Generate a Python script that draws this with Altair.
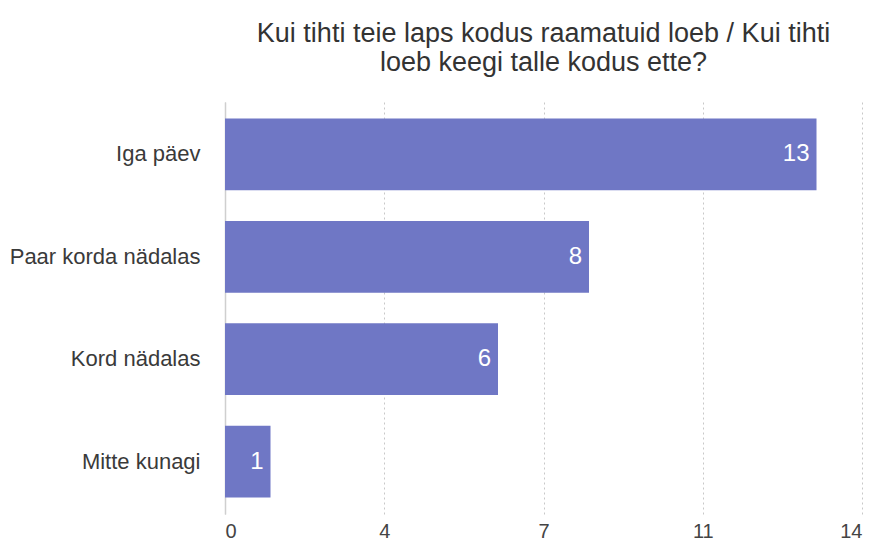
import altair as alt
import pandas as pd

categories = ["Iga päev", "Paar korda nädalas", "Kord nädalas", "Mitte kunagi"]
values = [13, 8, 6, 1]
tick_values = [0, 3.5, 7, 10.5, 14]
title_lines = ["Kui tihti teie laps kodus raamatuid loeb / Kui tihti", "loeb keegi talle kodus ette?"]

df = pd.DataFrame({"cat": categories, "val": values})
FONT = "Liberation Sans"

x = alt.X("val:Q",
          scale=alt.Scale(domain=[0, 14], nice=False, zero=True),
          axis=alt.Axis(values=tick_values, format=".0f", title=None,
                        grid=True, gridDash=[2, 3], gridColor="#c8c8c8",
                        domain=False, ticks=False, labelFontSize=20,
                        labelColor="#444", labelPadding=7, labelFont=FONT))
y = alt.Y("cat:N", sort=categories,
          scale=alt.Scale(paddingInner=0.3, paddingOuter=0.16),
          axis=alt.Axis(title=None, ticks=False, domain=True, domainColor="#cfcfcf",
                        domainWidth=1.5, labelFontSize=22, labelColor="#3a3a3a",
                        labelPadding=25, labelFont=FONT, grid=False, labelLimit=400))

bars = alt.Chart(df).mark_bar(color="#6f77c5").encode(x=x, y=y)
labels = alt.Chart(df).mark_text(align="right", baseline="middle", dx=-7,
                                 color="white", fontSize=24, font=FONT).encode(
    x="val:Q", y=alt.Y("cat:N", sort=categories), text="val:Q")

chart = (bars + labels).properties(
    width=637, height=412,
    title=alt.TitleParams(title_lines, fontSize=27, font=FONT, color="#333",
                          fontWeight="normal", anchor="middle", offset=25, lineHeight=29),
    autosize=alt.AutoSizeParams(type="none"),
    padding={"left": 217, "top": 94, "right": 4, "bottom": 30},
).configure_view(stroke=None)

chart.save("out.html", embed_options={"renderer": "svg", "actions": False})
